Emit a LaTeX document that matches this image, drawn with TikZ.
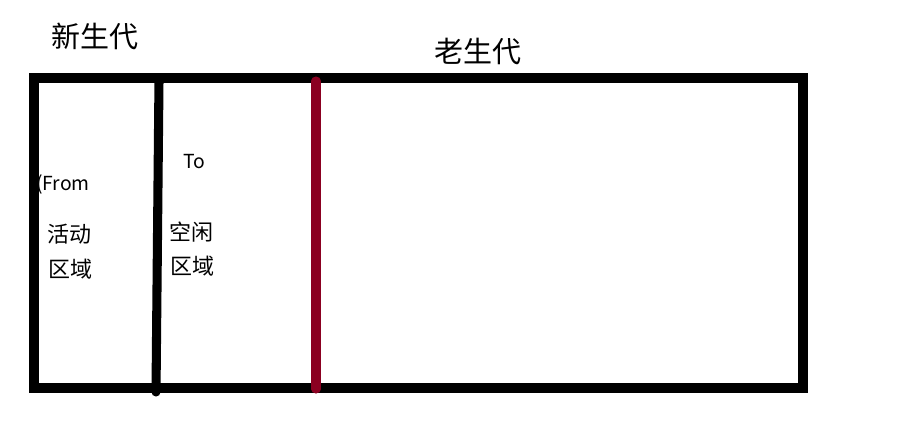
\documentclass[tikz,border=0pt]{standalone}
\usepackage{fontspec}
\setmainfont{Noto Sans CJK SC}
\definecolor{divred}{HTML}{8B0021}
\begin{document}
\begin{tikzpicture}[x=0.75pt,y=-0.75pt,
  frame/.style={line width=7.5pt,draw=black},
  divider/.style={line width=6.8pt,line cap=round},
  title/.style={font=\fontsize{21.75}{26}\selectfont,inner sep=0pt},
  label/.style={font=\fontsize{16.5}{20}\selectfont,inner sep=0pt},
  latin/.style={font=\fontsize{14.5}{18}\selectfont,inner sep=0pt}]
\useasboundingbox (0,0) rectangle (913,444);
\node[title] (young) at (95,36) {新生代};
\node[title] (old) at (478,52) {老生代};
\node[latin,anchor=base east] (from) at (90,190) {(From};
\node[latin] (to) at (194,162) {To};
\node[label] (act1) at (69,234) {活动};
\node[label] (act2) at (70,269) {区域};
\node[label] (idle1) at (191,232) {空闲};
\node[label] (idle2) at (192,266) {区域};
\coordinate (tl) at (34,78);
\coordinate (br) at (803,388);
\draw[frame] (tl) rectangle (br);
\coordinate (b1) at (159,80);
\coordinate (b2) at (156,392);
\draw[divider,black] (b1) -- (b2);
\coordinate (r1) at (316,81);
\coordinate (r2) at (316,389);
\draw[divider,divred] (r1) -- (r2);
\end{tikzpicture}
\end{document}
